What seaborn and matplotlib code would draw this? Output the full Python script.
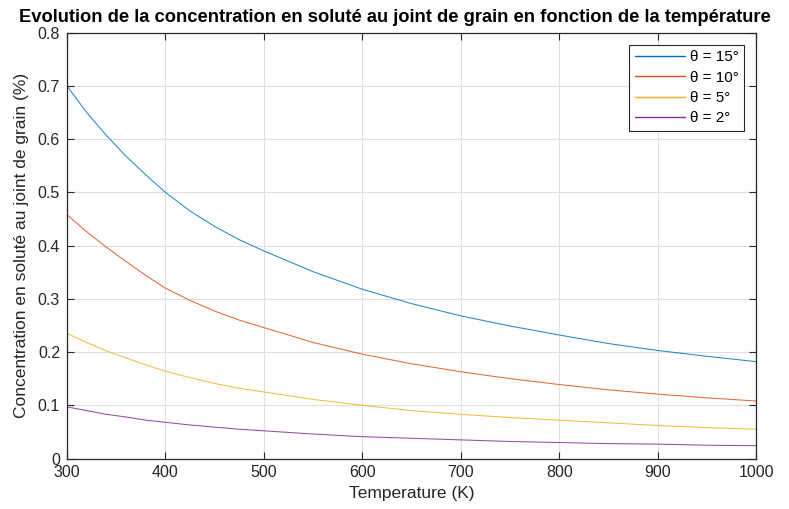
import matplotlib
matplotlib.use("Agg")
import matplotlib.pyplot as plt
import seaborn as sns
import pandas as pd

# Temperature grid (K) and grain-boundary solute concentration (%) per misorientation angle
temperature = [300, 320, 340, 360, 380, 400, 425, 450, 475, 500, 550, 600, 650, 700, 750, 800, 850, 900, 950, 1000]
conc_15 = [0.700, 0.650, 0.607, 0.568, 0.533, 0.500, 0.465, 0.436, 0.411, 0.390, 0.351, 0.318, 0.291, 0.268, 0.249, 0.232, 0.216, 0.203, 0.192, 0.182]
conc_10 = [0.458, 0.426, 0.397, 0.370, 0.344, 0.320, 0.297, 0.277, 0.260, 0.246, 0.218, 0.196, 0.178, 0.163, 0.150, 0.139, 0.129, 0.121, 0.114, 0.108]
conc_5 = [0.235, 0.218, 0.202, 0.189, 0.176, 0.164, 0.152, 0.141, 0.132, 0.125, 0.111, 0.100, 0.090, 0.083, 0.077, 0.072, 0.067, 0.062, 0.058, 0.055]
conc_2 = [0.097, 0.090, 0.083, 0.078, 0.072, 0.068, 0.063, 0.059, 0.055, 0.052, 0.046, 0.041, 0.038, 0.035, 0.032, 0.030, 0.028, 0.027, 0.025, 0.024]

series_labels = ["θ = 15°", "θ = 10°", "θ = 5°", "θ = 2°"]
series_values = [conc_15, conc_10, conc_5, conc_2]
line_colors = ["#0072BD", "#D95319", "#EDB120", "#7E2F8E"]

x_ticks = [300, 400, 500, 600, 700, 800, 900, 1000]
y_ticks = [0, 0.1, 0.2, 0.3, 0.4, 0.5, 0.6, 0.7, 0.8]

frames = []
for label, values in zip(series_labels, series_values):
    frames.append(pd.DataFrame({"T": temperature, "c": values, "angle": label}))
df = pd.concat(frames, ignore_index=True)

sns.set_theme(style="whitegrid")
plt.rcParams["font.family"] = ["Liberation Sans", "DejaVu Sans"]

fig = plt.figure(figsize=(7.89, 5.09), dpi=100)
ax = fig.add_axes([0.0849, 0.0992, 0.8733, 0.8366])

sns.lineplot(data=df, x="T", y="c", hue="angle", hue_order=series_labels,
             palette=line_colors, linewidth=0.75, alpha=0.85, ax=ax, legend=True)

ax.set_xlim(300, 1000)
ax.set_ylim(0, 0.8)
ax.set_xticks(x_ticks)
ax.set_yticks(y_ticks)
ax.set_yticklabels(["0", "0.1", "0.2", "0.3", "0.4", "0.5", "0.6", "0.7", "0.8"])

ax.set_facecolor("white")
ax.grid(True, color="#DFDFDF", linewidth=0.8)
for side in ["left", "right", "top", "bottom"]:
    ax.spines[side].set_visible(True)
    ax.spines[side].set_color("#262626")
    ax.spines[side].set_linewidth(0.9)

ax.tick_params(axis="both", which="both", direction="in", length=5, width=0.8,
               color="#262626", labelcolor="#262626", labelsize=11.5,
               top=True, right=True, bottom=True, left=True, pad=5)

ax.set_xlabel("Temperature (K)", fontsize=12.5, color="#262626", labelpad=4)
ax.set_ylabel("Concentration en soluté au joint de grain (%)", fontsize=12.5,
              color="#262626", labelpad=6)

# Title centred on the figure, sitting just above the top tick label
fig.text(0.5, 1 - 21.5 / 509,
         "Evolution de la concentration en soluté au joint de grain en fonction de la température",
         ha="center", va="baseline", fontsize=13.2, fontweight="bold", color="black")

leg = ax.legend(loc="upper right", fontsize=11, frameon=True, fancybox=False,
                edgecolor="#262626", framealpha=1, handlelength=3.3,
                borderaxespad=0.8, labelspacing=0.42, handletextpad=0.3,
                borderpad=0.35)
leg.get_frame().set_linewidth(0.8)
for h in leg.get_lines():
    h.set_linewidth(1.0)
    h.set_alpha(1.0)
for t in leg.get_texts():
    t.set_color("black")

fig.savefig("out.png", dpi=100, facecolor="white")
